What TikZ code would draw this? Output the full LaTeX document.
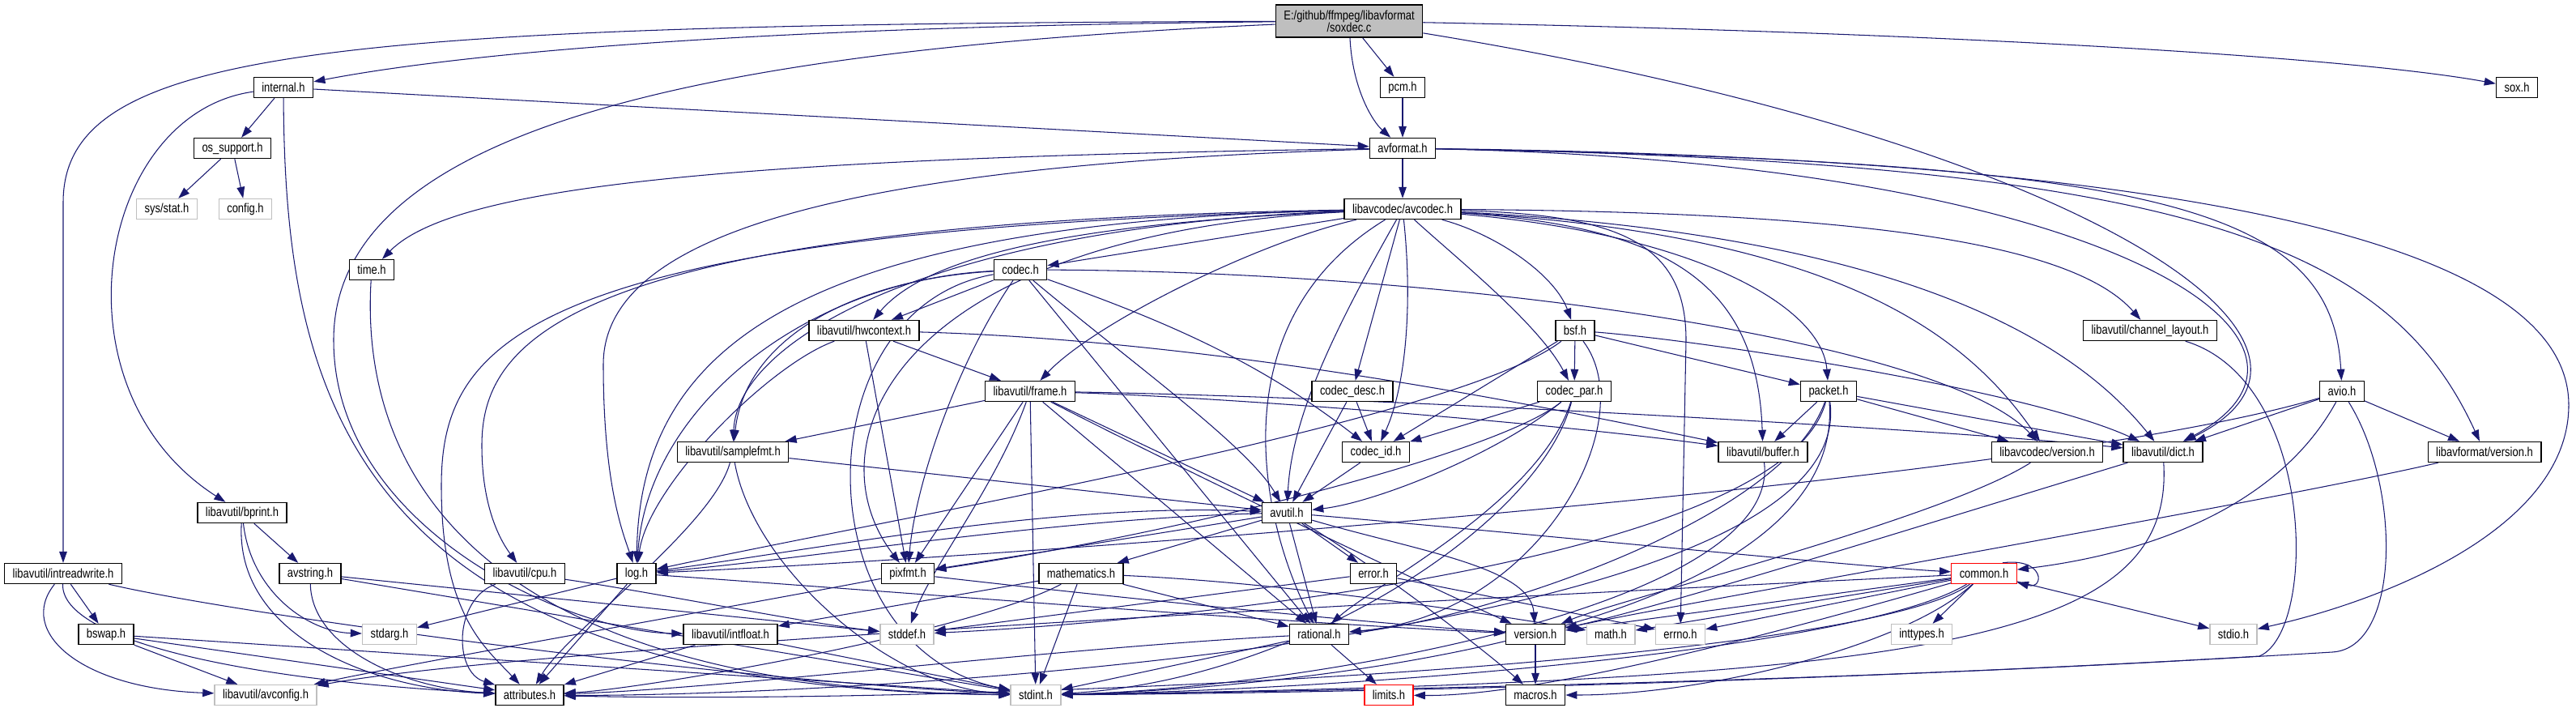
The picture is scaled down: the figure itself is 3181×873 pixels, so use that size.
\documentclass[tikz,border=0pt]{standalone}
\usepackage{fontspec}
\newfontfamily\dotfont{Liberation Sans}[FakeStretch=0.82]
\usetikzlibrary{arrows.meta}
\definecolor{edgeblue}{HTML}{191970}
\definecolor{rootgray}{HTML}{BFBFBF}
\definecolor{sysgray}{HTML}{BFBFBF}
\pgfdeclarelayer{bg}
\pgfsetlayers{bg,main}
\tikzset{
  file/.style={draw=black, line width=0.8pt, fill=white, minimum height=0.5cm,
    inner xsep=0.2cm, inner ysep=0pt, font=\dotfont\fontsize{9}{8.5}\selectfont},
  sysfile/.style={file, draw=sysgray},
  rootfile/.style={file, fill=rootgray, align=center, minimum height=0.8cm},
  cutfile/.style={file, draw=red},
  dep/.style={draw=edgeblue, line width=0.6pt, -{Triangle[length=8pt,width=5.5pt]}},
}
\begin{document}
\begin{tikzpicture}[x=0.02cm, y=-0.02cm]
  \useasboundingbox (0,0) rectangle (3181,873);
  %% include graph of soxdec.c
  % FILES
  % row 0
  \node[rootfile] (soxdec) at (1666,26) {E:/github/ffmpeg/libavformat\\/soxdec.c};
  % row 1
  \node[file] (internal) at (350,108) {internal.h};
  \node[file] (pcm) at (1732,108) {pcm.h};
  \node[file] (sox) at (3108,108) {sox.h};
  % row 2
  \node[file] (ossupport) at (287,183) {os\_support.h};
  \node[file] (avformat) at (1732,183) {avformat.h};
  % row 3
  \node[sysfile] (sysstat) at (206,258) {sys/stat.h};
  \node[sysfile] (config) at (303,258) {config.h};
  \node[file] (avcodec) at (1732,258) {libavcodec/avcodec.h};
  % row 4
  \node[file] (time) at (459,333) {time.h};
  \node[file] (codec) at (1260,333) {codec.h};
  % row 5
  \node[file] (hwcontext) at (1067,408) {libavutil/hwcontext.h};
  \node[file] (bsf) at (1945,408) {bsf.h};
  \node[file] (chlayout) at (2655,408) {libavutil/channel\_layout.h};
  % row 6
  \node[file] (frame) at (1272,483) {libavutil/frame.h};
  \node[file] (codecdesc) at (1670,483) {codec\_desc.h};
  \node[file] (codecpar) at (1944,483) {codec\_par.h};
  \node[file] (packet) at (2258,483) {packet.h};
  \node[file] (avio) at (2892,483) {avio.h};
  % row 7
  \node[file] (samplefmt) at (905,558) {libavutil/samplefmt.h};
  \node[file] (codecid) at (1699,558) {codec\_id.h};
  \node[file] (buffer) at (2177,558) {libavutil/buffer.h};
  \node[file] (lavcversion) at (2528,558) {libavcodec/version.h};
  \node[file] (dict) at (2671,558) {libavutil/dict.h};
  \node[file] (lavfversion) at (3068,558) {libavformat/version.h};
  % row 8
  \node[file] (bprint) at (299,633) {libavutil/bprint.h};
  \node[file] (avutil) at (1589,633) {avutil.h};
  % row 9
  \node[file] (intreadwrite) at (78,708) {libavutil/intreadwrite.h};
  \node[file] (avstring) at (383,708) {avstring.h};
  \node[file] (cpu) at (648,708) {libavutil/cpu.h};
  \node[file] (log) at (786,708) {log.h};
  \node[file] (pixfmt) at (1121,708) {pixfmt.h};
  \node[file] (mathematics) at (1335,708) {mathematics.h};
  \node[file] (error) at (1696,708) {error.h};
  \node[cutfile] (common) at (2450,708) {common.h};
  % row 10
  \node[file] (bswap) at (131,783) {bswap.h};
  \node[sysfile] (stdarg) at (481,783) {stdarg.h};
  \node[file] (intfloat) at (902,783) {libavutil/intfloat.h};
  \node[sysfile] (stddef) at (1120,783) {stddef.h};
  \node[file] (rational) at (1629,783) {rational.h};
  \node[file] (version) at (1896,783) {version.h};
  \node[sysfile] (math) at (1989,783) {math.h};
  \node[sysfile] (errno) at (2075,783) {errno.h};
  \node[sysfile] (inttypes) at (2373,783) {inttypes.h};
  \node[sysfile] (stdio) at (2758,783) {stdio.h};
  % row 11
  \node[sysfile] (avconfig) at (328,858) {libavutil/avconfig.h};
  \node[file] (attributes) at (654,858) {attributes.h};
  \node[sysfile] (stdint) at (1279,858) {stdint.h};
  \node[cutfile] (limits) at (1715,858) {limits.h};
  \node[file] (macros) at (1896,858) {macros.h};

  % ARROWS
  \begin{pgfonlayer}{bg}
  % soxdec.c
  \draw[dep] (soxdec) .. controls (400,30) and (78,60) .. (78,250) -- (intreadwrite);
  \draw[dep] (soxdec) .. controls (1000,32) and (600,60) .. (internal);
  \draw[dep] (soxdec) .. controls (900,60) and (412,150) .. (412,420) .. controls (412,650) and (700,780) .. (intfloat);
  \draw[dep] (soxdec) .. controls (1670,110) and (1695,150) .. (avformat);
  \draw[dep] (soxdec) -- (pcm);
  \draw[dep] (soxdec) .. controls (2400,40) and (2900,70) .. (sox);
  \draw[dep] (soxdec) .. controls (2550,170) and (2950,420) .. (dict);
  % internal.h
  \draw[dep] (internal) -- (ossupport);
  \draw[dep] (internal) .. controls (120,140) and (60,480) .. (bprint);
  \draw[dep] (internal) .. controls (352,500) and (440,850) .. (stdint);
  \draw[dep] (internal) -- (avformat);
  % os_support.h
  \draw[dep] (ossupport) -- (sysstat);
  \draw[dep] (ossupport) -- (config);
  % pcm.h
  \draw[dep] (pcm) -- (avformat);
  % avformat.h
  \draw[dep] (avformat) -- (avcodec);
  \draw[dep] (avformat) .. controls (900,195) and (560,230) .. (time);
  \draw[dep] (avformat) .. controls (1000,205) and (745,300) .. (745,450) .. controls (745,600) and (770,660) .. (log);
  \draw[dep] (avformat) .. controls (2700,195) and (3172,300) .. (3172,500) .. controls (3172,650) and (2950,740) .. (stdio);
  \draw[dep] (avformat) .. controls (2650,200) and (2880,250) .. (avio);
  \draw[dep] (avformat) .. controls (2700,200) and (2950,300) .. (lavfversion);
  \draw[dep] (avformat) .. controls (2600,200) and (2930,420) .. (dict);
  % time.h
  \draw[dep] (time) .. controls (445,560) and (560,850) .. (stdint);
  % libavcodec/avcodec.h
  \draw[dep] (avcodec) -- (codec);
  \draw[dep] (avcodec) .. controls (1350,275) and (1150,310) .. (hwcontext);
  \draw[dep] (avcodec) .. controls (1550,300) and (1350,400) .. (frame);
  \draw[dep] (avcodec) -- (codecdesc);
  \draw[dep] (avcodec) .. controls (1745,380) and (1735,480) .. (codecid);
  \draw[dep] (avcodec) .. controls (1640,420) and (1595,520) .. (avutil);
  \draw[dep] (avcodec) .. controls (1800,320) and (1900,400) .. (codecpar);
  \draw[dep] (avcodec) .. controls (1850,290) and (1920,340) .. (bsf);
  \draw[dep] (avcodec) .. controls (2100,290) and (2250,380) .. (packet);
  \draw[dep] (avcodec) .. controls (2000,265) and (2082,300) .. (2082,420) -- (errno);
  \draw[dep] (avcodec) .. controls (2300,262) and (2560,300) .. (chlayout);
  \draw[dep] (avcodec) .. controls (2350,290) and (2560,420) .. (dict);
  \draw[dep] (avcodec) .. controls (2250,290) and (2420,400) .. (lavcversion);
  \draw[dep] (avcodec) .. controls (2060,280) and (2170,350) .. (buffer);
  \draw[dep] (avcodec) .. controls (700,275) and (595,420) .. (595,550) .. controls (595,630) and (620,670) .. (cpu);
  \draw[dep] (avcodec) .. controls (650,285) and (545,420) .. (545,600) .. controls (545,760) and (600,800) .. (attributes);
  \draw[dep] (avcodec) .. controls (1000,275) and (790,420) .. (log);
  \draw[dep] (avcodec) .. controls (1100,290) and (1000,550) .. (pixfmt);
  \draw[dep] (avcodec) .. controls (1150,280) and (910,420) .. (samplefmt);
  \draw[dep] (avcodec) .. controls (1500,400) and (1560,650) .. (rational);
  % codec.h
  \draw[dep] (codec) .. controls (990,380) and (990,800) .. (stdint);
  \draw[dep] (codec) .. controls (1400,450) and (1540,550) .. (avutil);
  \draw[dep] (codec) -- (hwcontext);
  \draw[dep] (codec) .. controls (1000,345) and (800,500) .. (log);
  \draw[dep] (codec) .. controls (1180,450) and (1130,600) .. (pixfmt);
  \draw[dep] (codec) -- (rational);
  \draw[dep] (codec) .. controls (1050,345) and (920,420) .. (samplefmt);
  \draw[dep] (codec) .. controls (1450,400) and (1560,450) .. (codecid);
  \draw[dep] (codec) .. controls (1800,335) and (2400,420) .. (lavcversion);
  % codec_desc.h, codec_id.h
  \draw[dep] (codecdesc) -- (avutil);
  \draw[dep] (codecdesc) -- (codecid);
  \draw[dep] (codecid) -- (avutil);
  % codec_par.h
  \draw[dep] (codecpar) .. controls (1900,650) and (1600,840) .. (stdint);
  \draw[dep] (codecpar) .. controls (1850,560) and (1700,620) .. (avutil);
  \draw[dep] (codecpar) .. controls (1900,620) and (1700,720) .. (rational);
  \draw[dep] (codecpar) .. controls (1850,560) and (1450,660) .. (pixfmt);
  \draw[dep] (codecpar) -- (codecid);
  % bsf.h
  \draw[dep] (bsf) .. controls (2100,420) and (2500,480) .. (dict);
  \draw[dep] (bsf) .. controls (1800,520) and (1100,640) .. (log);
  \draw[dep] (bsf) .. controls (2030,520) and (1900,760) .. (rational);
  \draw[dep] (bsf) -- (codecid);
  \draw[dep] (bsf) -- (codecpar);
  \draw[dep] (bsf) -- (packet);
  % packet.h
  \draw[dep] (packet) .. controls (2200,700) and (1400,770) .. (stddef);
  \draw[dep] (packet) .. controls (2280,780) and (1600,850) .. (stdint);
  \draw[dep] (packet) .. controls (2300,800) and (1000,860) .. (attributes);
  \draw[dep] (packet) -- (buffer);
  \draw[dep] (packet) -- (dict);
  \draw[dep] (packet) .. controls (2200,650) and (1800,770) .. (rational);
  \draw[dep] (packet) -- (lavcversion);
  % libavcodec/version.h
  \draw[dep] (lavcversion) .. controls (2400,640) and (2000,740) .. (version);
  % libavutil/hwcontext.h
  \draw[dep] (hwcontext) .. controls (1500,420) and (1900,500) .. (buffer);
  \draw[dep] (hwcontext) -- (frame);
  \draw[dep] (hwcontext) .. controls (950,450) and (800,600) .. (log);
  \draw[dep] (hwcontext) -- (pixfmt);
  % libavutil/frame.h
  \draw[dep] (frame) .. controls (1230,600) and (1150,700) .. (stddef);
  \draw[dep] (frame) -- (stdint);
  \draw[dep] (frame) -- (avutil);
  \draw[dep] (frame) .. controls (1500,490) and (1900,520) .. (buffer);
  \draw[dep] (frame) .. controls (1700,490) and (2400,530) .. (dict);
  \draw[dep] (frame) -- (rational);
  \draw[dep] (frame) -- (samplefmt);
  \draw[dep] (frame) -- (pixfmt);
  \draw[dep] (frame) .. controls (1500,600) and (1800,740) .. (version);
  % libavutil/samplefmt.h
  \draw[dep] (samplefmt) .. controls (930,700) and (1100,850) .. (stdint);
  \draw[dep] (samplefmt) -- (avutil);
  \draw[dep] (samplefmt) .. controls (880,650) and (700,780) .. (attributes);
  % libavutil/buffer.h, libavutil/dict.h
  \draw[dep] (buffer) .. controls (2200,750) and (1600,850) .. (stdint);
  \draw[dep] (dict) .. controls (2685,790) and (2400,840) .. (stdint);
  \draw[dep] (dict) .. controls (2400,640) and (2050,750) .. (version);
  % avutil.h
  \draw[dep] (avutil) .. controls (1900,660) and (2300,700) .. (common);
  \draw[dep] (avutil) -- (error);
  \draw[dep] (avutil) -- (rational);
  \draw[dep] (avutil) .. controls (1750,680) and (1890,700) .. (version);
  \draw[dep] (avutil) .. controls (1700,700) and (1830,800) .. (macros);
  \draw[dep] (avutil) -- (mathematics);
  \draw[dep] (avutil) .. controls (1300,640) and (1000,690) .. (log);
  \draw[dep] (avutil) -- (pixfmt);
  % common.h
  \draw[dep] (common) -- (errno);
  \draw[dep] (common) -- (inttypes);
  \draw[dep] (common) .. controls (2200,780) and (1900,860) .. (limits);
  \draw[dep] (common) -- (math);
  \draw[dep] (common) .. controls (2300,800) and (1700,850) .. (stdint);
  \draw[dep] (common) -- (stdio);
  \draw[dep] (common) .. controls (2300,820) and (1200,870) .. (attributes);
  \draw[dep] (common) .. controls (2350,800) and (2100,858) .. (macros);
  \draw[dep] (common) -- (version);
  \draw[dep] (common) .. controls (2200,720) and (700,790) .. (avconfig);
  \draw[dep] (common.30) .. controls (2525,688) and (2525,728) .. (common.-15);
  % error.h, rational.h, version.h
  \draw[dep] (error) -- (errno);
  \draw[dep] (error) -- (stddef);
  \draw[dep] (rational) -- (stdint);
  \draw[dep] (rational) -- (limits);
  \draw[dep] (rational) .. controls (1300,800) and (900,850) .. (attributes);
  \draw[dep] (version) -- (macros);
  % mathematics.h
  \draw[dep] (mathematics) -- (stdint);
  \draw[dep] (mathematics) .. controls (1600,720) and (1850,760) .. (math);
  \draw[dep] (mathematics) .. controls (1200,780) and (800,850) .. (attributes);
  \draw[dep] (mathematics) -- (rational);
  \draw[dep] (mathematics) -- (intfloat);
  % libavutil/intfloat.h
  \draw[dep] (intfloat) -- (stdint);
  \draw[dep] (intfloat) -- (attributes);
  % log.h
  \draw[dep] (log) -- (stdarg);
  \draw[dep] (log) .. controls (1000,680) and (1300,620) .. (avutil);
  \draw[dep] (log) -- (attributes);
  \draw[dep] (log) .. controls (1100,730) and (1600,770) .. (version);
  % pixfmt.h
  \draw[dep] (pixfmt) .. controls (900,750) and (500,820) .. (avconfig);
  \draw[dep] (pixfmt) .. controls (1400,740) and (1700,770) .. (version);
  % libavutil/cpu.h
  \draw[dep] (cpu) .. controls (800,730) and (1000,770) .. (stddef);
  \draw[dep] (cpu) .. controls (560,740) and (560,830) .. (attributes);
  % avstring.h
  \draw[dep] (avstring) -- (stddef);
  \draw[dep] (avstring) -- (stdint);
  \draw[dep] (avstring) .. controls (385,800) and (500,850) .. (attributes);
  % libavutil/bprint.h
  \draw[dep] (bprint) .. controls (310,730) and (380,780) .. (stdarg);
  \draw[dep] (bprint) .. controls (290,780) and (450,850) .. (attributes);
  \draw[dep] (bprint) -- (avstring);
  % libavutil/intreadwrite.h
  \draw[dep] (intreadwrite) .. controls (300,760) and (900,840) .. (stdint);
  \draw[dep] (intreadwrite) .. controls (20,780) and (100,850) .. (avconfig);
  \draw[dep] (intreadwrite) .. controls (75,790) and (300,840) .. (attributes);
  \draw[dep] (intreadwrite) -- (bswap);
  % bswap.h
  \draw[dep] (bswap) -- (stdint);
  \draw[dep] (bswap) -- (avconfig);
  \draw[dep] (bswap) -- (attributes);
  % libavutil/channel_layout.h
  \draw[dep] (chlayout) .. controls (2860,470) and (2862,780) .. (2790,810) .. controls (2300,840) and (1700,852) .. (stdint);
  % avio.h
  \draw[dep] (avio) .. controls (2965,600) and (2965,800) .. (2880,805) .. controls (2300,840) and (1700,855) .. (stdint);
  \draw[dep] (avio) .. controls (2800,650) and (2600,690) .. (common);
  \draw[dep] (avio) -- (dict);
  \draw[dep] (avio) .. controls (2500,600) and (1200,690) .. (log);
  \draw[dep] (avio) -- (lavfversion);
  % libavformat/version.h
  \draw[dep] (lavfversion) .. controls (2800,620) and (2100,740) .. (version);
  \end{pgfonlayer}
\end{tikzpicture}
\end{document}
